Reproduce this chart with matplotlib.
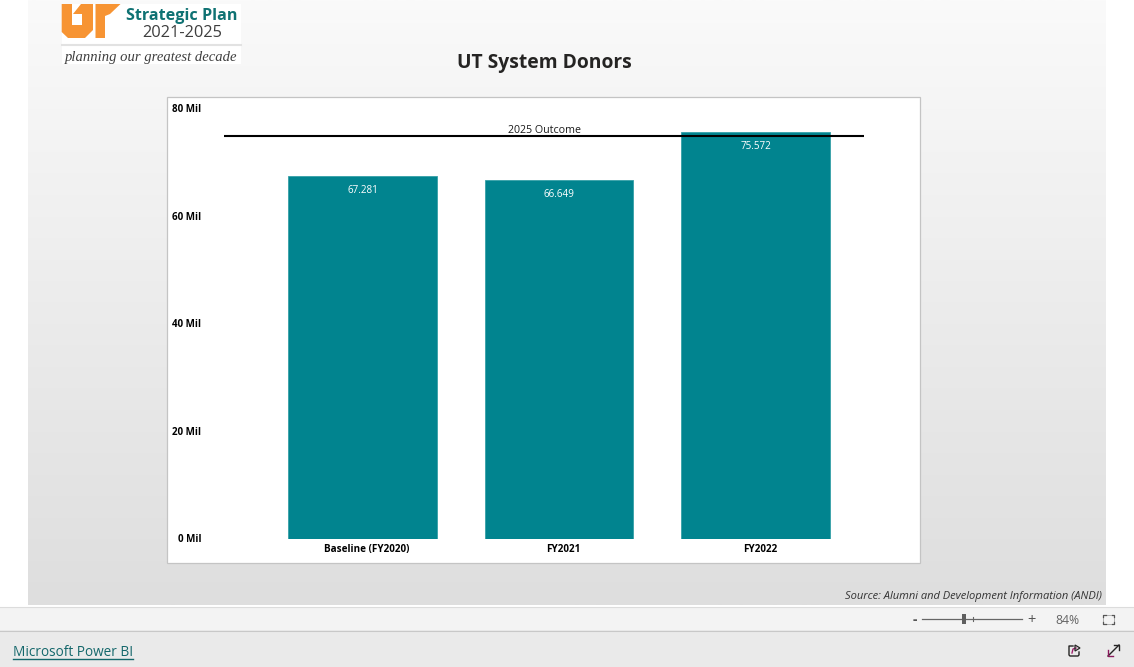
#!/usr/bin/env python3
"""
UT System Donors bar chart, drawn inside a Power BI style page.
"""

import matplotlib
matplotlib.use('Agg')
import matplotlib.pyplot as plt
from matplotlib.colors import LinearSegmentedColormap
from matplotlib.patches import Polygon, Rectangle
from matplotlib.transforms import ScaledTranslation
import numpy as np

plt.rcParams['font.family'] = ['Open Sans', 'DejaVu Sans']

# Chart data
CATEGORIES = ['Baseline (FY2020)', 'FY2021', 'FY2022']
DONORS = [67.281, 66.649, 75.572]
OUTCOME_2025 = 74.8
OUTCOME_LABEL = '2025 Outcome'
Y_TICKS = [0, 20, 40, 60, 80]
Y_LABELS = ['0 Mil', '20 Mil', '40 Mil', '60 Mil', '80 Mil']

W, H = 1134, 667
TEAL = '#01848f'

fig = plt.figure(figsize=(W / 100, H / 100), dpi=100, facecolor='white')

# Page layer, in pixel coordinates
page = fig.add_axes([0, 0, 1, 1], zorder=0)

# Page background gradient
grad = np.linspace(0, 1, 256).reshape(-1, 1)
page.imshow(grad, extent=(28, 1106, 605, 0), cmap=LinearSegmentedColormap.from_list(
    'page', ['#fafafa', '#dedede']), aspect='auto', zorder=1)
page.set_xlim(0, W)
page.set_ylim(H, 0)
page.axis('off')

# Footer bars
page.add_patch(Rectangle((0, 607), W, 23, fc='#f3f3f3', ec='none', zorder=1))
page.add_patch(Rectangle((0, 630), W, 37, fc='#eaeaea', ec='none', zorder=1))
page.plot([0, W], [607, 607], color='#dcdcdc', lw=0.8, zorder=2)
page.plot([0, W], [630.5, 630.5], color='#c8c8c8', lw=0.8, zorder=2)

# White chart panel
page.add_patch(Rectangle((166.5, 96.5), 753.5, 466, fc='white', ec='#c4c4c4', lw=0.9, zorder=2))

# Logo
page.add_patch(Rectangle((61.5, 4), 179, 60, fc='white', ec='none', zorder=2))
page.plot([61.5, 240.5], [44.5, 44.5], color='#e2e2e2', lw=1.5, zorder=3)
orange = '#f79433'
page.add_patch(Polygon([(61.7, 4), (72, 4), (72, 25), (82, 25), (82, 14), (73, 14), (81, 4),
                        (93, 4), (93, 30), (85, 38), (68, 38), (61.7, 32)],
                       fc=orange, ec='none', zorder=3))
page.add_patch(Polygon([(95.5, 4), (120.5, 4), (110, 14), (105, 16), (105, 38), (95.5, 38)],
                       fc=orange, ec='none', zorder=3))
page.text(182, 16, 'Strategic Plan', fontsize=11.6, fontweight='bold', color='#0f7273',
          ha='center', va='center', zorder=4)
page.text(182, 33, '2021-2025', fontsize=11.8, fontweight='medium', color='#3e3e3e',
          ha='center', va='center', zorder=4)
page.text(151, 57, 'planning our greatest decade', fontsize=10.5, style='italic', color='#3f3f3f',
          family='Liberation Serif', ha='center', va='center', zorder=4)

# Title and source
page.text(544.5, 63, 'UT System Donors', fontsize=13.9, fontweight='bold', color='#252423',
          ha='center', va='center', zorder=4)
page.text(1102, 597, 'Source: Alumni and Development Information (ANDI)', fontsize=8, style='italic',
          color='#333333', ha='right', va='center', zorder=4)

# Footer controls
page.plot([922, 1022], [619, 619], color='#666666', lw=0.9, zorder=3)
page.plot([972.5, 972.5], [617, 621], color='#666666', lw=0.8, zorder=3)
page.add_patch(Rectangle((962, 614), 4, 10, fc='#5f5f5f', ec='none', zorder=4))
page.text(915, 620, '-', fontsize=10, fontweight='bold', color='#555555', ha='center', va='center', zorder=4)
page.text(1032, 620, '+', fontsize=10.5, color='#555555', ha='center', va='center', zorder=4)
page.text(1067, 620.5, '84%', fontsize=8.8, color='#666666', ha='center', va='center', zorder=4)
page.add_patch(Rectangle((1103, 615), 11, 8.5, fc='none', ec='#b0b0b0', lw=0.7, zorder=4))
for cx, dx in [(1103, 2.5), (1114, -2.5)]:
    for cy, dy in [(615, 2), (623.5, -2)]:
        page.plot([cx + dx, cx, cx], [cy, cy, cy + dy], color='#555555', lw=0.9, zorder=5)
page.text(13, 653, 'Microsoft Power BI', fontsize=9.8, color='#14676b', ha='left', va='center', zorder=4)
page.plot([13, 133], [658.5, 658.5], color='#14676b', lw=1, zorder=4)

# Share icon
page.plot([1073, 1069, 1069, 1070, 1078, 1079, 1079], [646, 646, 655, 656, 656, 655, 652],
          color='#252423', lw=1, zorder=4)
page.plot([1072, 1073, 1076], [653, 649, 648], color='#a0246e', lw=1, zorder=4)
page.add_patch(Polygon([(1075, 645), (1080, 648), (1075, 651)], fc='none', ec='#252423', lw=0.9, zorder=4))

# Expand icon
page.plot([1108, 1119], [656, 645], color='#252423', lw=1, zorder=4)
page.plot([1114, 1119, 1119], [645, 645, 650], color='#252423', lw=1, zorder=4)
page.plot([1108, 1108, 1113], [650, 656, 656], color='#8a1a5c', lw=1, zorder=4)

# Chart axes: x runs 224-864 px, y 0-80 runs 538.5-108 px
left, right, top, bottom = 224, 864, 108, 538.5
ax = fig.add_axes([left / W, 1 - bottom / H, (right - left) / W, (bottom - top) / H], zorder=1)
ax.patch.set_alpha(0)
x = np.arange(len(CATEGORIES))
ax.set_xlim(-0.705, 2.552)
ax.set_ylim(0, 80)

ax.bar(x, DONORS, width=0.755, color=TEAL, edgecolor='#35a0a8', linewidth=0.6, zorder=2)
for xi, v in zip(x, DONORS):
    ax.annotate(f'{v:.3f}', (xi, v), xytext=(0, -13), textcoords='offset pixels', ha='center', va='center_baseline',
                fontsize=7.1, color='white', zorder=5)

ax.axhline(OUTCOME_2025, color='black', lw=1.5, zorder=4)
ax.annotate(OUTCOME_LABEL, (0.5, OUTCOME_2025), xycoords=('axes fraction', 'data'), xytext=(0, 7),
            textcoords='offset pixels', ha='center', va='center_baseline', fontsize=7.7, color='#1a1a1a', zorder=5)

for s in ax.spines.values():
    s.set_visible(False)
ax.set_yticks(Y_TICKS)
ax.set_yticklabels(Y_LABELS, fontsize=7, fontweight='bold', color='black', ha='right')
ax.set_xticks(x)
ax.set_xticklabels(CATEGORIES, fontsize=7.1, fontweight='bold', color='black')
ax.tick_params(axis='y', length=0, pad=16.3)
ax.tick_params(axis='x', length=0, pad=4)

# Category labels sit a little right of the bar centres in the original
shift = ScaledTranslation(4.5 / 100, 0, fig.dpi_scale_trans)
for lab in ax.get_xticklabels():
    lab.set_transform(lab.get_transform() + shift)

fig.savefig('out.png', dpi=100)
